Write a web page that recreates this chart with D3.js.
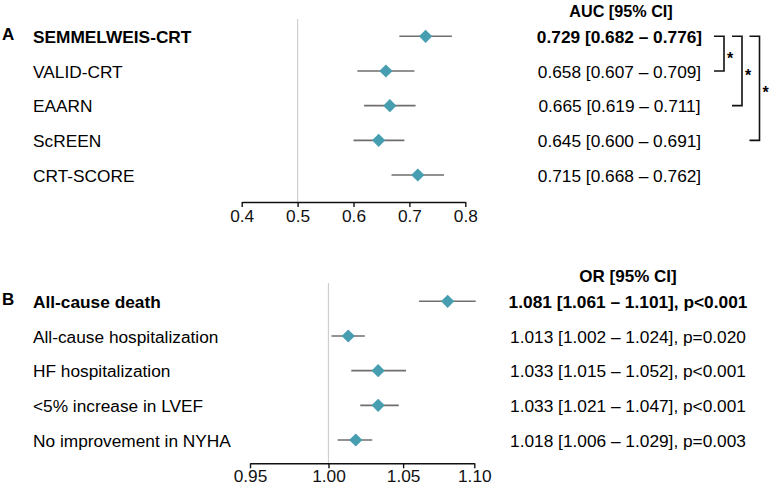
<!DOCTYPE html>
<html>
<head>
<meta charset="utf-8">
<script src="https://cdn.jsdelivr.net/npm/d3@7"></script>
<style>
  html, body { margin: 0; padding: 0; background: #fff; }
  svg { display: block; font-family: "Liberation Sans", Arial, sans-serif; }
</style>
</head>
<body>
<svg id="chart" width="784" height="493"></svg>
<script>
// ---------- Data ----------
const aLabels = ["SEMMELWEIS-CRT", "VALID-CRT", "EAARN", "ScREEN", "CRT-SCORE"];
const aAUC    = [0.729, 0.658, 0.665, 0.645, 0.715];
const aLow    = [0.682, 0.607, 0.619, 0.600, 0.668];
const aHigh   = [0.776, 0.709, 0.711, 0.691, 0.762];
const aTicks  = [0.4, 0.5, 0.6, 0.7, 0.8];
const aComparisons = [[0, 1], [0, 2], [0, 3]]; // significant pairs (*)

const bLabels = ["All-cause death", "All-cause hospitalization", "HF hospitalization",
                 "<5% increase in LVEF", "No improvement in NYHA"];
const bOR     = [1.081, 1.013, 1.033, 1.033, 1.018];
const bLow    = [1.061, 1.002, 1.015, 1.021, 1.006];
const bHigh   = [1.101, 1.024, 1.052, 1.047, 1.029];
const bP      = ["p<0.001", "p=0.020", "p<0.001", "p<0.001", "p=0.003"];
const bTicks  = [0.95, 1.00, 1.05, 1.10];

// ---------- Styles ----------
const FONT = 17.3;
const DIAMOND = "#479eb0";
const CI_COLOR = "#6e6e6e";
const REF_COLOR = "#cfcfcf";

const svg = d3.select("#chart");
const f3 = d3.format(".3f");

function diamondPath(cx, cy, r) {
  return `M${cx},${cy - r}L${cx + r},${cy}L${cx},${cy + r}L${cx - r},${cy}Z`;
}

function panel(opts) {
  const g = svg.append("g");
  const n = opts.labels.length;
  const y = d3.scalePoint().domain(d3.range(n)).range(opts.yRange);
  const x = opts.x;

  // panel letter
  g.append("text").attr("x", 2).attr("y", opts.yRange[0] + 3.7)
    .attr("font-size", 17).attr("font-weight", "bold").text(opts.letter);

  // row labels
  g.selectAll("text.lab").data(opts.labels).join("text")
    .attr("class", "lab")
    .attr("x", 33).attr("y", (d, i) => y(i)).attr("dy", "0.38em")
    .attr("font-size", FONT)
    .attr("font-weight", (d, i) => i === 0 ? "bold" : "normal")
    .text(d => d);

  // reference line
  g.append("line")
    .attr("x1", x(opts.ref)).attr("x2", x(opts.ref))
    .attr("y1", opts.refTop).attr("y2", opts.axisY)
    .attr("stroke", REF_COLOR).attr("stroke-width", 1.2);

  // CI lines
  g.selectAll("line.ci").data(opts.est).join("line")
    .attr("class", "ci")
    .attr("x1", (d, i) => x(opts.low[i])).attr("x2", (d, i) => x(opts.high[i]))
    .attr("y1", (d, i) => y(i)).attr("y2", (d, i) => y(i))
    .attr("stroke", CI_COLOR).attr("stroke-width", 1.6);

  // diamonds
  g.selectAll("path.pt").data(opts.est).join("path")
    .attr("class", "pt")
    .attr("d", (d, i) => diamondPath(x(d), y(i), 6.6))
    .attr("fill", DIAMOND);

  // axis
  const axis = d3.axisBottom(x).tickValues(opts.ticks).tickFormat(opts.tickFormat)
    .tickSize(5).tickSizeOuter(0).tickPadding(opts.tickPad);
  const ag = g.append("g").attr("transform", `translate(0,${opts.axisY})`).call(axis);
  ag.select(".domain").attr("stroke", "#111").attr("stroke-width", 1.4);
  ag.selectAll(".tick line").attr("stroke", "#111").attr("stroke-width", 1.4);
  ag.selectAll(".tick text").attr("font-size", FONT)
    .attr("font-family", "Liberation Sans, Arial, sans-serif").attr("fill", "#111");

  // header
  g.append("text").attr("x", opts.headerX).attr("y", opts.headerY)
    .attr("text-anchor", "middle").attr("font-size", opts.headerSize).attr("font-weight", "bold")
    .text(opts.header);

  // value text
  g.selectAll("text.val").data(opts.est).join("text")
    .attr("class", "val")
    .attr("x", opts.textX).attr("y", (d, i) => y(i)).attr("dy", "0.38em")
    .attr("text-anchor", "middle").attr("font-size", FONT)
    .attr("font-weight", (d, i) => i === 0 ? "bold" : "normal")
    .text((d, i) => `${f3(d)} [${f3(opts.low[i])} \u2013 ${f3(opts.high[i])}]` +
                    (opts.p ? `, ${opts.p[i]}` : ""));
  return { g, y };
}

// Panel A
const xA = d3.scaleLinear().domain([0.4, 0.8]).range([241.7, 465.3]);
const A = panel({
  letter: "A", labels: aLabels, est: aAUC, low: aLow, high: aHigh,
  x: xA, yRange: [36.3, 175], ref: 0.5, refTop: 19, axisY: 202,
  ticks: aTicks, tickFormat: d3.format(".1f"), tickPad: 3,
  header: "AUC [95% CI]", headerY: 17, headerX: 621, headerSize: 16.2, textX: 619.5
});

// significance brackets
const bracketX = [724, 742, 759.5];
aComparisons.forEach(([i0, i1], k) => {
  const xv = bracketX[k];
  const y0 = A.y(i0), y1 = A.y(i1);
  A.g.append("path")
    .attr("d", `M${xv - 10},${y0}H${xv}V${y1}H${xv - 10}`)
    .attr("fill", "none").attr("stroke", "#111").attr("stroke-width", 1.6);
  A.g.append("text")
    .attr("x", xv + 6).attr("y", (y0 + y1) / 2).attr("dy", "0.62em")
    .attr("text-anchor", "middle").attr("font-size", 16).attr("font-weight", "bold")
    .text("*");
});

// Panel B (log scale)
const xB = d3.scaleLog().domain([0.95, 1.10]).range([250, 474.3]);
panel({
  letter: "B", labels: bLabels, est: bOR, low: bLow, high: bHigh, p: bP,
  x: xB, yRange: [301.3, 440], ref: 1.0, refTop: 283, axisY: 463.3,
  ticks: bTicks, tickFormat: d3.format(".2f"), tickPad: 1,
  header: "OR [95% CI]", headerY: 281.5, headerX: 628, headerSize: 17, textX: 628
});
</script>
</body>
</html>
